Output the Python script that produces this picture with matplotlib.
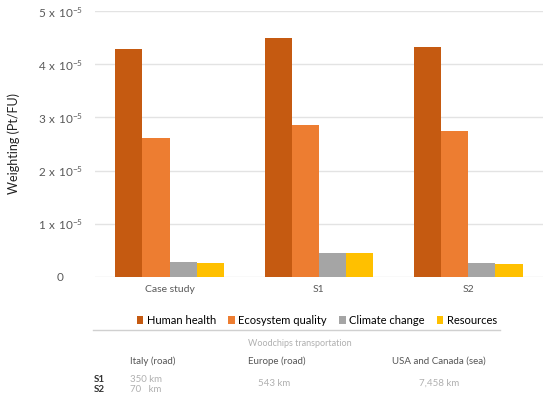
import numpy as np
import matplotlib
matplotlib.use('Agg')
from matplotlib import pyplot as plt

categories = ['Case study', 'S1', 'S2']
series = ['Human health', 'Ecosystem quality', 'Climate change', 'Resources']
colors = ['#C55A11', '#ED7D31', '#A5A5A5', '#FFC000']
values = {
    'Human health': [4.28e-5, 4.49e-5, 4.32e-5],
    'Ecosystem quality': [2.61e-5, 2.85e-5, 2.74e-5],
    'Climate change': [0.29e-5, 0.46e-5, 0.26e-5],
    'Resources': [0.27e-5, 0.46e-5, 0.24e-5],
}
yticks = [0, 1e-5, 2e-5, 3e-5, 4e-5, 5e-5]
ytick_labels = ['0'] + [r'$\mathregular{%d\ x\ 10^{-5}}$' % i for i in range(1, 6)]

# transport table below the chart
routes = ['Italy (road)', 'Europe (road)', 'USA and Canada (sea)']
s1_dist = ['350 km', '543 km', '7,458 km']
s2_dist = ['70   km']

plt.rcParams['font.family'] = ['Lato', 'DejaVu Sans']

fig = plt.figure(figsize=(5.5, 3.99), dpi=100)
ax = fig.add_axes([0.1727, 0.3058, 0.8143, 0.6666])

x = np.arange(len(categories))
w = 0.182
for i, s in enumerate(series):
    ax.bar(x + (i - 1.5) * w, values[s], width=w, color=colors[i], label=s, zorder=3)

ax.set_xlim(-0.5, 2.5)
ax.set_ylim(0, 5e-5)
ax.set_yticks(yticks)
ax.set_yticklabels(ytick_labels, ha='center')
ax.set_xticks(x)
ax.set_xticklabels(categories)
ax.grid(axis='y', color='#e3e3e3', linewidth=1, zorder=0)
for sp in ax.spines.values():
    sp.set_visible(False)
ax.tick_params(axis='both', length=0, colors='#595959', labelsize=7.5)
ax.tick_params(axis='y', pad=25, labelsize=8.5)
ax.tick_params(axis='x', pad=6)
ax.set_ylabel('Weighting (Pt/FU)', fontsize=9, color='#222222')
ax.yaxis.set_label_coords(-0.168, 0.5)

ax.legend(loc='upper center', bbox_to_anchor=(0.495, -0.105), ncol=4, frameon=False,
          fontsize=8, handlelength=0.6, handleheight=0.6, handletextpad=0.3,
          columnspacing=1.1)

# table part
fig.add_artist(plt.Line2D([93 / 550, 500 / 550], [1 - 330 / 399] * 2,
                          color='#d0d0d0', linewidth=1))
fig.text(300 / 550, 1 - 344 / 399, 'Woodchips transportation', ha='center', va='center',
         fontsize=6.5, color='#b0b0b0')
fig.text(130 / 550, 1 - 361 / 399, routes[0], ha='left', va='center', fontsize=7, color='#555555')
fig.text(277 / 550, 1 - 361 / 399, routes[1], ha='center', va='center', fontsize=7, color='#555555')
fig.text(439 / 550, 1 - 361 / 399, routes[2], ha='center', va='center', fontsize=7, color='#555555')
fig.text(94 / 550, 1 - 379 / 399, 'S1', ha='left', va='center', fontsize=7, color='#333333', fontweight='bold')
fig.text(94 / 550, 1 - 390 / 399, 'S2', ha='left', va='center', fontsize=7, color='#333333', fontweight='bold')
fig.text(130 / 550, 1 - 379 / 399, s1_dist[0], ha='left', va='center', fontsize=7, color='#b0b0b0')
fig.text(130 / 550, 1 - 390 / 399, s2_dist[0], ha='left', va='center', fontsize=7, color='#b0b0b0')
fig.text(274 / 550, 1 - 383 / 399, s1_dist[1], ha='center', va='center', fontsize=7, color='#b0b0b0')
fig.text(439 / 550, 1 - 383 / 399, s1_dist[2], ha='center', va='center', fontsize=7, color='#b0b0b0')

fig.savefig('out.png', dpi=100)
